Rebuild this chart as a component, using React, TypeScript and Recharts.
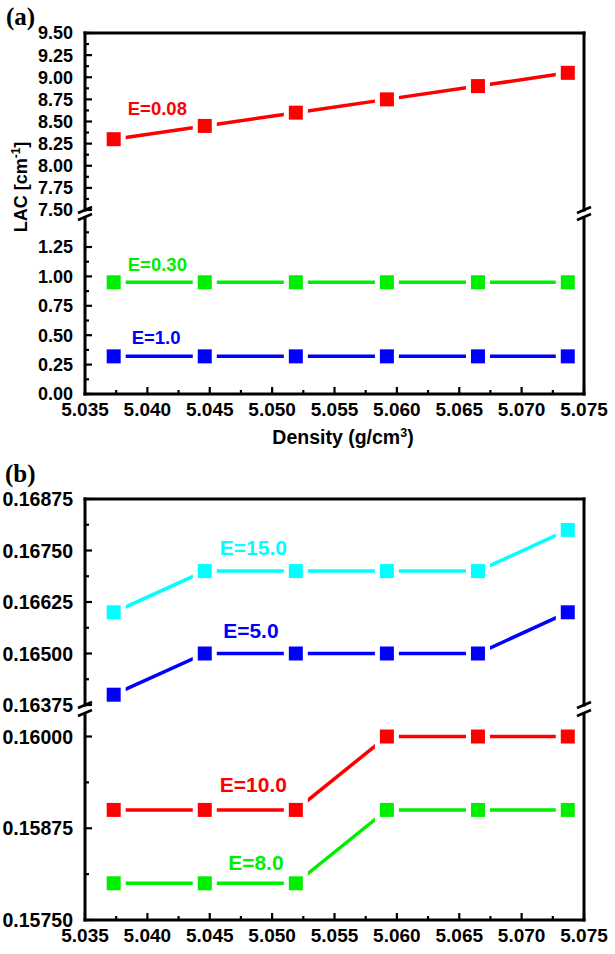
import { LineChart, Line, XAxis, YAxis, ReferenceLine, ReferenceDot } from "recharts";

const SANS = "'Liberation Sans', Arial, sans-serif";
const SERIF = "'Liberation Serif', 'Times New Roman', serif";

const RED = "#ff0000";
const GREEN = "#00ee00";
const BLUE = "#0000ff";
const CYAN = "#00ffff";

// density (g/cm3), same six samples in both panels
const DENSITY = [5.0373, 5.0446, 5.0519, 5.0592, 5.0665, 5.0737];

// (a) LAC [cm-1]
const A_E008 = [8.3, 8.45, 8.6, 8.75, 8.9, 9.05];
const A_E030 = [0.95, 0.95, 0.95, 0.95, 0.95, 0.95];
const A_E10 = [0.32, 0.32, 0.32, 0.32, 0.32, 0.32];

// (b)
const B_E15 = [0.166, 0.167, 0.167, 0.167, 0.167, 0.168];
const B_E5 = [0.164, 0.165, 0.165, 0.165, 0.165, 0.166];
const B_E10 = [0.159, 0.159, 0.159, 0.16, 0.16, 0.16];
const B_E8 = [0.158, 0.158, 0.158, 0.159, 0.159, 0.159];

const X_DOMAIN: [number, number] = [5.035, 5.075];
const X_MAJOR = [5.035, 5.04, 5.045, 5.05, 5.055, 5.06, 5.065, 5.07, 5.075];
const X_MINOR = [5.0375, 5.0425, 5.0475, 5.0525, 5.0575, 5.0625, 5.0675, 5.0725];

const A_HI_DOMAIN: [number, number] = [7.5, 9.5];
const A_HI_MAJOR = [7.5, 7.75, 8, 8.25, 8.5, 8.75, 9, 9.25, 9.5];
const A_HI_MINOR = [7.625, 7.875, 8.125, 8.375, 8.625, 8.875, 9.125, 9.375];
const A_LO_DOMAIN: [number, number] = [0, 1.5];
const A_LO_MAJOR = [0, 0.25, 0.5, 0.75, 1, 1.25];
const A_LO_MINOR = [0.125, 0.375, 0.625, 0.875, 1.125, 1.375];

const B_HI_DOMAIN: [number, number] = [0.16375, 0.16875];
const B_HI_MAJOR = [0.16375, 0.165, 0.16625, 0.1675, 0.16875];
const B_HI_MINOR = [0.164375, 0.165625, 0.166875, 0.168125];
const B_LO_DOMAIN: [number, number] = [0.1575, 0.1603];
const B_LO_MAJOR = [0.1575, 0.15875, 0.16];
const B_LO_MINOR = [0.158125, 0.159375];

const rowsA = DENSITY.map((x, i) => ({ x, e008: A_E008[i], e030: A_E030[i], e10: A_E10[i] }));
const rowsB = DENSITY.map((x, i) => ({ x, e15: B_E15[i], e5: B_E5[i], e10: B_E10[i], e8: B_E8[i] }));

const W = 615;
const Y_AXIS_W = 85;
const RIGHT = 31;
const Y_GAP = 12;
const X_GAP = 8;

const isMajor = (list: number[], v: number) => list.some((m) => Math.abs(m - v) < 1e-9);

function yTick(majors: number[], digits: number, fontSize: number) {
  return (props: any) => {
    const { x, y, payload } = props;
    const v = payload.value;
    const major = isMajor(majors, v);
    const ax = x + Y_GAP;
    return (
      <g>
        <line x1={ax} x2={ax + (major ? 7 : 4)} y1={y} y2={y} stroke="#000" strokeWidth={2.2} />
        {major && (
          <text x={x} y={y} dy="0.36em" textAnchor="end" fontFamily={SANS} fontWeight="bold" fontSize={fontSize} fill="#000">
            {v.toFixed(digits)}
          </text>
        )}
      </g>
    );
  };
}

function xTick(props: any) {
  const { x, y, payload } = props;
  const v = payload.value;
  const major = isMajor(X_MAJOR, v);
  const ay = y - X_GAP;
  return (
    <g>
      <line x1={x} x2={x} y1={ay} y2={ay - (major ? 7 : 4)} stroke="#000" strokeWidth={2.2} />
      {major && (
        <text x={x} y={y} dy="0.74em" textAnchor="middle" fontFamily={SANS} fontWeight="bold" fontSize={19} fill="#000">
          {v.toFixed(3)}
        </text>
      )}
    </g>
  );
}

// square symbol with a white halo so the line stops short of it
const squareDot = (color: string) => (p: any) => (
  <g key={`d-${p.index}`}>
    <rect x={p.cx - 12} y={p.cy - 12} width={24} height={24} fill="#fff" />
    <rect x={p.cx - 7} y={p.cy - 7} width={14} height={14} fill={color} />
  </g>
);

const tag = (text: string, color: string, size: number) => (p: any) => (
  <text x={p.cx} y={p.cy} dy="0.36em" textAnchor="middle" fontFamily={SANS} fontWeight="bold" fontSize={size} fill={color}>
    {text}
  </text>
);

const FRAME = { stroke: "#000", strokeWidth: 3, strokeLinecap: "square" as const };

function series(key: string, color: string) {
  return (
    <Line
      key={key}
      type="linear"
      dataKey={key}
      stroke={color}
      strokeWidth={3.5}
      dot={squareDot(color)}
      activeDot={false}
      isAnimationActive={false}
    />
  );
}

function yAxis(domain: [number, number], majors: number[], minors: number[], digits: number, fontSize: number) {
  return (
    <YAxis
      type="number"
      domain={domain}
      allowDataOverflow
      ticks={[...majors, ...minors]}
      interval={0}
      width={Y_AXIS_W}
      tickSize={0}
      tickMargin={Y_GAP}
      tickLine={false}
      axisLine={FRAME}
      tick={yTick(majors, digits, fontSize)}
    />
  );
}

function hiddenX() {
  return <XAxis type="number" dataKey="x" domain={X_DOMAIN} allowDataOverflow hide />;
}

function shownX() {
  return (
    <XAxis
      type="number"
      dataKey="x"
      domain={X_DOMAIN}
      allowDataOverflow
      ticks={[...X_MAJOR, ...X_MINOR]}
      interval={0}
      height={30}
      tickSize={0}
      tickMargin={X_GAP}
      tickLine={false}
      axisLine={FRAME}
      tick={xTick}
    />
  );
}

function Break({ x, y0, y1 }: { x: number; y0: number; y1: number }) {
  return (
    <g stroke="#000" strokeWidth={2.6}>
      <line x1={x - 7} y1={y0 + 3} x2={x + 7} y2={y0 - 3} />
      <line x1={x - 7} y1={y1 + 3} x2={x + 7} y2={y1 - 3} />
    </g>
  );
}

export default function App() {
  return (
    <div style={{ position: "absolute", left: 0, top: 0, width: W, height: 954, background: "#fff" }}>
      {/* (a) upper segment */}
      <div style={{ position: "absolute", left: 0, top: 0 }}>
        <LineChart width={W} height={226} data={rowsA} margin={{ top: 33, right: RIGHT, bottom: 16, left: 0 }}>
          {hiddenX()}
          {yAxis(A_HI_DOMAIN, A_HI_MAJOR, A_HI_MINOR, 2, 18)}
          <ReferenceLine y={9.5} ifOverflow="visible" {...FRAME} />
          <ReferenceLine x={5.075} ifOverflow="visible" {...FRAME} />
          {series("e008", RED)}
          <ReferenceDot x={5.0408} y={8.65} r={0} shape={tag("E=0.08", RED, 18.5)} />
        </LineChart>
      </div>
      {/* (a) lower segment */}
      <div style={{ position: "absolute", left: 0, top: 205 }}>
        <LineChart width={W} height={224} data={rowsA} margin={{ top: 12.6, right: RIGHT, bottom: 5, left: 0 }}>
          {shownX()}
          {yAxis(A_LO_DOMAIN, A_LO_MAJOR, A_LO_MINOR, 2, 18)}
          <ReferenceLine x={5.075} ifOverflow="visible" {...FRAME} />
          {series("e030", GREEN)}
          {series("e10", BLUE)}
          <ReferenceDot x={5.0408} y={1.1} r={0} shape={tag("E=0.30", GREEN, 18.5)} />
          <ReferenceDot x={5.0407} y={0.48} r={0} shape={tag("E=1.0", BLUE, 18.5)} />
        </LineChart>
      </div>
      {/* (b) upper segment */}
      <div style={{ position: "absolute", left: 0, top: 480 }}>
        <LineChart width={W} height={241} data={rowsB} margin={{ top: 19, right: RIGHT, bottom: 16, left: 0 }}>
          {hiddenX()}
          {yAxis(B_HI_DOMAIN, B_HI_MAJOR, B_HI_MINOR, 5, 19.5)}
          <ReferenceLine y={0.16875} ifOverflow="visible" {...FRAME} />
          <ReferenceLine x={5.075} ifOverflow="visible" {...FRAME} />
          {series("e15", CYAN)}
          {series("e5", BLUE)}
          <ReferenceDot x={5.0485} y={0.16758} r={0} shape={tag("E=15.0", CYAN, 21)} />
          <ReferenceDot x={5.0483} y={0.16557} r={0} shape={tag("E=5.0", BLUE, 21)} />
        </LineChart>
      </div>
      {/* (b) lower segment */}
      <div style={{ position: "absolute", left: 0, top: 700 }}>
        <LineChart width={W} height={254} data={rowsB} margin={{ top: 14.5, right: RIGHT, bottom: 4, left: 0 }}>
          {shownX()}
          {yAxis(B_LO_DOMAIN, B_LO_MAJOR, B_LO_MINOR, 5, 19.5)}
          <ReferenceLine x={5.075} ifOverflow="visible" {...FRAME} />
          {series("e10", RED)}
          {series("e8", GREEN)}
          <ReferenceDot x={5.0485} y={0.15935} r={0} shape={tag("E=10.0", RED, 21)} />
          <ReferenceDot x={5.0487} y={0.15829} r={0} shape={tag("E=8.0", GREEN, 21)} />
        </LineChart>
      </div>

      {/* titles and axis-break marks */}
      <svg width={W} height={954} style={{ position: "absolute", left: 0, top: 0, pointerEvents: "none" }}>
        <text x={6} y={25} fontFamily={SERIF} fontWeight="bold" fontSize={25} fill="#000">(a)</text>
        <text x={5} y={482} fontFamily={SERIF} fontWeight="bold" fontSize={25} fill="#000">(b)</text>
        <text transform="translate(27,187) rotate(-90)" textAnchor="middle" fontFamily={SANS} fontWeight="bold" fontSize={18} fill="#000">
          LAC [cm<tspan fontSize={12} dy={-7}>-1</tspan><tspan dy={7}>]</tspan>
        </text>
        <text x={343} y={444} textAnchor="middle" fontFamily={SANS} fontWeight="bold" fontSize={19.5} fill="#000">
          Density (g/cm<tspan fontSize={12.5} dy={-7}>3</tspan><tspan dy={7}>)</tspan>
        </text>
        <Break x={85} y0={210} y1={217} />
        <Break x={584} y0={210} y1={217} />
        <Break x={85} y0={705} y1={713} />
        <Break x={584} y0={705} y1={713} />
      </svg>
    </div>
  );
}
